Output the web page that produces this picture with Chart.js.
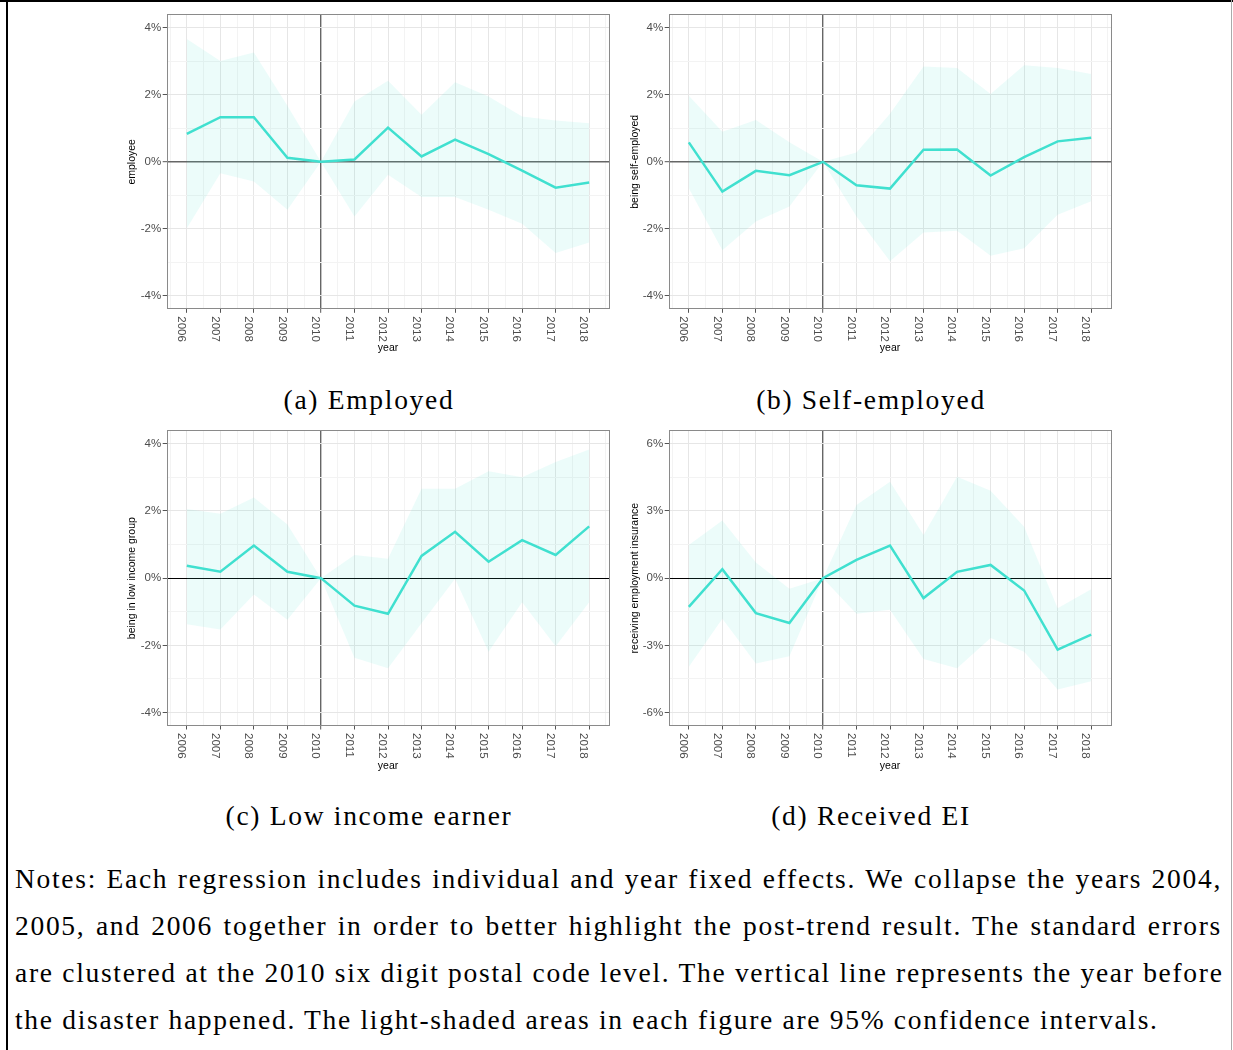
<!DOCTYPE html>
<html>
<head>
<meta charset="utf-8">
<script src="https://cdn.jsdelivr.net/npm/chart.js@4.4.0/dist/chart.umd.min.js"></script>
<style>
  html, body { margin: 0; padding: 0; background: #fff; }
  #page { position: relative; width: 1233px; height: 1050px; overflow: hidden; background: #fff; }
  canvas { position: absolute; }
  .frame { position: absolute; }
  .cap, .note {
    position: absolute; font-family: "Liberation Serif", "Times New Roman", serif;
    color: #000; white-space: nowrap;
  }
  .cap { font-size: 27.5px; line-height: 27.5px; letter-spacing: 1.7px; transform: translateX(-50%); }
  .note { left: 15px; width: 1207px; font-size: 27.5px; line-height: 46.8px; letter-spacing: 1.7px;
    text-align: justify; text-align-last: justify; }
  .note.last { text-align: left; text-align-last: left; }
</style>
</head>
<body>
<div id="page">
  <div class="frame" style="left:0;top:0;width:1233px;height:2px;background:#000"></div>
  <div class="frame" style="left:6px;top:0;width:1.5px;height:1050px;background:#000"></div>
  <div class="frame" style="left:1231px;top:0;width:1px;height:1050px;background:#aaa"></div>

  <canvas id="employed" width="620" height="370" style="left:0;top:0"></canvas>
  <canvas id="selfemp" width="613" height="370" style="left:620px;top:0"></canvas>
  <canvas id="lowinc" width="620" height="370" style="left:0;top:420px"></canvas>
  <canvas id="receivedEI" width="613" height="370" style="left:620px;top:420px"></canvas>

  <div class="cap" style="left:369px;top:385.8px">(a) Employed</div>
  <div class="cap" style="left:871px;top:385.8px">(b) Self-employed</div>
  <div class="cap" style="left:369px;top:802px">(c) Low income earner</div>
  <div class="cap" style="left:871px;top:802px">(d) Received EI</div>

  <div class="note" style="top:856.4px">Notes: Each regression includes individual and year fixed effects. We collapse the years 2004,</div>
  <div class="note" style="top:903.2px">2005, and 2006 together in order to better highlight the post-trend result. The standard errors</div>
  <div class="note" style="top:950px">are clustered at the 2010 six digit postal code level. The vertical line represents the year before</div>
  <div class="note last" style="top:996.8px">the disaster happened. The light-shaded areas in each figure are 95% confidence intervals.</div>
</div>

<script>
// years on the x axis
const years = [2006, 2007, 2008, 2009, 2010, 2011, 2012, 2013, 2014, 2015, 2016, 2017, 2018];

// (a) employed: estimate and 95% CI, in %
const empEst = [0.83, 1.33, 1.33, 0.12, 0, 0.07, 1.02, 0.16, 0.66, 0.23, -0.26, -0.77, -0.62];
const empHi  = [3.66, 3.01, 3.26, 1.67, 0, 1.80, 2.42, 1.40, 2.37, 1.95, 1.35, 1.23, 1.15];
const empLo  = [-1.98, -0.34, -0.59, -1.43, 0, -1.63, -0.39, -1.05, -1.05, -1.43, -1.85, -2.72, -2.41];

// (b) self-employed
const selfEst = [0.58, -0.89, -0.27, -0.40, 0, -0.70, -0.80, 0.36, 0.37, -0.41, 0.14, 0.61, 0.72];
const selfHi  = [1.97, 0.90, 1.25, 0.58, 0, 0.28, 1.43, 2.84, 2.80, 2.02, 2.88, 2.80, 2.62];
const selfLo  = [-0.79, -2.64, -1.78, -1.33, 0, -1.63, -2.97, -2.11, -2.06, -2.80, -2.58, -1.58, -1.18];

// (c) low income earner
const lowEst = [0.37, 0.19, 0.97, 0.19, 0, -0.82, -1.06, 0.66, 1.38, 0.49, 1.13, 0.69, 1.54];
const lowHi  = [2.06, 1.92, 2.40, 1.60, 0, 0.69, 0.58, 2.66, 2.66, 3.18, 3.00, 3.46, 3.83];
const lowLo  = [-1.37, -1.53, -0.49, -1.24, 0, -2.37, -2.68, -1.34, -0.02, -2.19, -0.72, -2.03, -0.72];

// (d) received EI
const eiEst = [-1.28, 0.40, -1.56, -2.00, 0, 0.82, 1.45, -0.89, 0.28, 0.59, -0.55, -3.19, -2.52];
const eiHi  = [1.48, 2.57, 0.70, -0.47, 0, 3.26, 4.30, 1.93, 4.53, 3.90, 2.30, -1.34, -0.49];
const eiLo  = [-3.96, -1.81, -3.81, -3.49, 0, -1.59, -1.41, -3.61, -4.02, -2.67, -3.29, -4.97, -4.60];

// y ticks (major labelled, minor half-way)
const ticks4 = [-4, -2, 0, 2, 4];
const ticks6 = [-6, -3, 0, 3, 6];

const TURQ = 'rgb(64, 224, 208)';
const RIBBON = 'rgba(64, 224, 208, 0.1)';
const SANS = '"Liberation Sans", Arial, Helvetica, sans-serif';
const TITLE_LH = 10.5 * 1.2;

function pts(vals) {
    return years.map((y, i) => ({x: y, y: vals[i]}));
}

function near(a, b) {
    return Math.abs(a - b) < 1e-6;
}

function drawPanel(id, cfg) {
    let box = cfg.box, area = cfg.area;
    let yAxisLeft = cfg.titleX - TITLE_LH / 2;
    let yAxisWidth = area.l - yAxisLeft;
    let xAxisBottom = cfg.yearY + TITLE_LH / 2;
    let xAxisHeight = xAxisBottom - area.b;

    let major = cfg.majors;
    let step = major[1] - major[0];
    let lim = major[major.length - 1] * 1.1;
    let yTicks = [];
    for (let v = major[0]; v <= major[major.length - 1] + 1e-9; v += step / 2) yTicks.push(v);
    let xTicks = [];
    for (let v = 2005.5; v <= 2018.5 + 1e-9; v += 0.5) xTicks.push(v);

    let panelPlugin = {
        id: 'panelDeco',
        afterDraw(chart) {
            let ctx = chart.ctx, ca = chart.chartArea, xs = chart.scales.x;
            ctx.save();
            ctx.strokeStyle = '#8a8a8a';
            ctx.lineWidth = 1;
            ctx.strokeRect(Math.round(ca.left) + 0.5, Math.round(ca.top) + 0.5,
                Math.round(ca.right - ca.left) - 1, Math.round(ca.bottom - ca.top) - 1);
            // x tick labels, rotated to read top to bottom
            ctx.fillStyle = '#4d4d4d';
            ctx.font = '11.5px ' + SANS;
            ctx.textAlign = 'left';
            ctx.textBaseline = 'alphabetic';
            for (const yr of years) {
                let px = xs.getPixelForValue(yr);
                ctx.save();
                ctx.translate(px - 8.8, ca.bottom + 7);
                ctx.rotate(Math.PI / 2);
                ctx.fillText(String(yr), 0, 0);
                ctx.restore();
            }
            ctx.restore();
        }
    };

    return new Chart(document.getElementById(id).getContext('2d'), {
        type: 'line',
        data: {
            datasets: [
                {
                    data: pts(cfg.hi),
                    borderWidth: 0,
                    borderColor: 'transparent',
                    backgroundColor: RIBBON,
                    pointRadius: 0,
                    fill: '+1',
                },
                {
                    data: pts(cfg.lo),
                    borderWidth: 0,
                    borderColor: 'transparent',
                    pointRadius: 0,
                    fill: false,
                },
                {
                    data: pts(cfg.est),
                    borderColor: TURQ,
                    borderWidth: 2.5,
                    pointRadius: 0,
                    fill: false,
                    tension: 0,
                },
            ]
        },
        options: {
            responsive: false,
            animation: false,
            devicePixelRatio: 1,
            layout: {
                padding: {
                    left: yAxisLeft - box.x,
                    top: area.t - box.y,
                    right: box.x + box.w - area.r,
                    bottom: box.y + box.h - xAxisBottom,
                }
            },
            plugins: {
                legend: {display: false},
                tooltip: {enabled: false},
            },
            scales: {
                x: {
                    type: 'linear',
                    min: 2005.4,
                    max: 2018.6,
                    afterBuildTicks: (s) => { s.ticks = xTicks.map(v => ({value: v})); },
                    afterFit: (s) => { s.height = xAxisHeight; },
                    ticks: {display: false},
                    border: {display: false},
                    grid: {
                        drawTicks: true,
                        tickLength: 3.5,
                        tickWidth: 1,
                        tickColor: (c) => Number.isInteger(c.tick.value) ? '#555' : 'rgba(0,0,0,0)',
                        color: (c) => {
                            if (near(c.tick.value, 2010)) return '#666';
                            return Number.isInteger(c.tick.value) ? '#e6e6e6' : '#f3f3f3';
                        },
                        lineWidth: (c) => near(c.tick.value, 2010) ? 1.4 : 1,
                    },
                    title: {
                        display: true,
                        text: 'year',
                        color: '#000',
                        padding: 0,
                        font: {family: SANS, size: 10.5},
                    },
                },
                y: {
                    type: 'linear',
                    min: -lim,
                    max: lim,
                    afterBuildTicks: (s) => { s.ticks = yTicks.map(v => ({value: v})); },
                    afterFit: (s) => { s.width = yAxisWidth; },
                    border: {display: false},
                    ticks: {
                        padding: 1.5,
                        color: '#4d4d4d',
                        font: {family: SANS, size: 11.5},
                        callback: (v) => major.some(m => near(m, v)) ? Math.round(v) + '%' : '',
                    },
                    grid: {
                        drawTicks: true,
                        tickLength: 4,
                        tickWidth: 1,
                        tickColor: (c) => major.some(m => near(m, c.tick.value)) ? '#555' : 'rgba(0,0,0,0)',
                        color: (c) => {
                            if (near(c.tick.value, 0)) return cfg.zeroColor;
                            return major.some(m => near(m, c.tick.value)) ? '#e6e6e6' : '#f3f3f3';
                        },
                        lineWidth: (c) => near(c.tick.value, 0) ? cfg.zeroWidth : 1,
                    },
                    title: {
                        display: true,
                        text: cfg.yTitle,
                        color: '#000',
                        padding: 0,
                        font: {family: SANS, size: 10.5},
                    },
                },
            },
        },
        plugins: [panelPlugin],
    });
}

const leftCol = {x: 0, w: 620, l: 166.7, r: 609.3, titleX: 132.5};
const rightCol = {x: 620, w: 613, l: 668.7, r: 1111.3, titleX: 635};
const topRow = {y: 0, h: 370, t: 14.3, b: 309.3, yearY: 348};
const botRow = {y: 420, h: 370, t: 430.3, b: 726, yearY: 766.5};

function place(col, row) {
    return {
        box: {x: col.x, y: row.y, w: col.w, h: row.h},
        area: {l: col.l, r: col.r, t: row.t, b: row.b},
        titleX: col.titleX,
        yearY: row.yearY,
    };
}

document.addEventListener('DOMContentLoaded', () => {
    drawPanel('employed', Object.assign(place(leftCol, topRow), {
        est: empEst, hi: empHi, lo: empLo, majors: ticks4,
        yTitle: 'employee', zeroColor: '#666', zeroWidth: 1.4,
    }));
    drawPanel('selfemp', Object.assign(place(rightCol, topRow), {
        est: selfEst, hi: selfHi, lo: selfLo, majors: ticks4,
        yTitle: 'being self-employed', zeroColor: '#666', zeroWidth: 1.4,
    }));
    drawPanel('lowinc', Object.assign(place(leftCol, botRow), {
        est: lowEst, hi: lowHi, lo: lowLo, majors: ticks4,
        yTitle: 'being in low income group', zeroColor: '#000', zeroWidth: 1,
    }));
    drawPanel('receivedEI', Object.assign(place(rightCol, botRow), {
        est: eiEst, hi: eiHi, lo: eiLo, majors: ticks6,
        yTitle: 'receiving employment insurance', zeroColor: '#000', zeroWidth: 1,
    }));
});
</script>
</body>
</html>
